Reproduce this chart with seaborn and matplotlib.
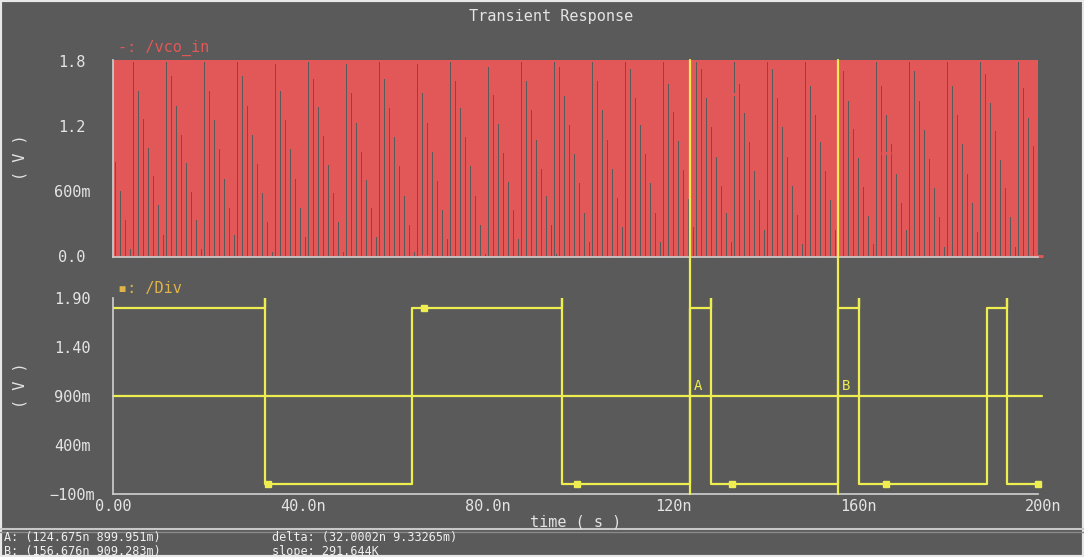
import numpy as np
import pandas as pd
import matplotlib
matplotlib.use("Agg")
import matplotlib.pyplot as plt
import seaborn as sns
from matplotlib.ticker import FixedLocator, FixedFormatter, MultipleLocator
from matplotlib.lines import Line2D
from matplotlib.patches import Rectangle
import matplotlib.transforms as mtransforms

# ---------------- data ----------------
t_end_ns = 200.0

# /vco_in : fast square wave (parameters)
vco_high = 1.8
vco_low = 0.0
vco_period_ns = 0.357
vco_high_frac = 0.81     # part of the period spent high before the falling edge

# /Div : divider output, edge times and levels
div_initial_level = 1.8
div_edge_times_ns = [32.9, 64.6, 97.0, 124.675, 129.2, 156.676, 161.2, 188.9, 193.2]
div_levels_after = [0.0, 1.8, 0.0, 1.8, 0.0, 1.8, 0.0, 1.8, 0.0]
div_overshoot = 1.9

# trace markers
marker_times_ns = [33.5, 67.2, 100.3, 133.8, 167.2, 200.0]
vco_marker_values = [1.8, 0.0, 1.72, 1.5, 0.95, 0.0]
div_marker_values = [0.0, 1.8, 0.0, 0.0, 0.0, 0.0]

# cursors
cursor_a = (124.675, 0.899951)
cursor_b = (156.676, 0.909283)
cursor_level = 0.9

# ticks
x_ticks = [0, 40, 80, 120, 160, 200]
x_tick_labels = ["0.00", "40.0n", "80.0n", "120n", "160n", "200n"]
top_y_ticks = [0.0, 0.6, 1.2, 1.8]
top_y_labels = ["0.0", "600m", "1.2", "1.8"]
bot_y_ticks = [-0.1, 0.4, 0.9, 1.4, 1.9]
bot_y_labels = ["\u2212100m", "400m", "900m", "1.40", "1.90"]

status_a = "A: (124.675n 899.951m)"
status_b = "B: (156.676n 909.283m)"
status_delta = "delta: (32.0002n 9.33265m)"
status_slope = "slope: 291.644K"

# ---------------- waveform assembly ----------------
n_per = int(np.ceil(t_end_ns / vco_period_ns))
k = np.arange(n_per) * vco_period_ns
a = vco_high_frac * vco_period_ns
vt = np.stack([k, k, k + a, k + vco_period_ns], axis=1).ravel()
vv = np.tile([vco_low, vco_high, vco_high, vco_low], n_per)
keep = vt <= t_end_ns
vco_df = pd.DataFrame({"t": vt[keep], "v": vv[keep]})

dt, dv = [0.0], [div_initial_level]
prev = div_initial_level
for te, lv in zip(div_edge_times_ns, div_levels_after):
    dt.append(te); dv.append(prev)
    if lv < prev:
        dt.append(te); dv.append(div_overshoot)
    dt.append(te); dv.append(lv)
    prev = lv
dt.append(t_end_ns); dv.append(prev)
div_df = pd.DataFrame({"t": dt, "v": dv})

# ---------------- style ----------------
BG = "#5a5a5a"
FG = "#e4e4e4"
SPINE = "#d0d0d0"
RED = "#e25858"
YEL = "#eeee50"
GOLD = "#e0b448"
MONO = ["DejaVu Sans Mono", "DejaVu Sans"]

sns.set_style("dark", rc={"axes.facecolor": BG, "figure.facecolor": BG})
plt.rcParams["font.family"] = MONO
plt.rcParams["path.simplify"] = False

W, H = 1084, 557
fig = plt.figure(figsize=(W / 100, H / 100), dpi=100)
fig.patch.set_facecolor(BG)

x0, x1 = 113, 1038
ax1 = fig.add_axes([x0 / W, 1 - 257 / H, (x1 - x0) / W, 197 / H])
ax2 = fig.add_axes([x0 / W, 1 - 494 / H, (x1 - x0) / W, 196 / H])

for ax in (ax1, ax2):
    ax.set_facecolor(BG)
    ax.grid(False)
    for s in ("top", "right"):
        ax.spines[s].set_visible(False)
    for s in ("left", "bottom"):
        ax.spines[s].set_visible(True)
        ax.spines[s].set_color(SPINE)
        ax.spines[s].set_linewidth(1.2)
    ax.set_xlim(0, t_end_ns)
    ax.xaxis.set_major_locator(FixedLocator(x_ticks))
    ax.xaxis.set_minor_locator(MultipleLocator(4))
    ax.tick_params(which="major", direction="in", length=8, width=1.2, color=SPINE,
                   labelcolor=FG, labelsize=11)
    ax.tick_params(which="minor", direction="in", length=3.5, width=1, color=SPINE)
    ax.tick_params(axis="y", which="major", pad=29.5)

# top panel
sns.lineplot(data=vco_df, x="t", y="v", ax=ax1, sort=False, estimator=None,
             color=RED, linewidth=0.216, antialiased=False)
ax1.plot(marker_times_ns, vco_marker_values, linestyle="none", marker="_",
         markersize=7, markeredgewidth=2, color=RED, clip_on=False)
ax1.set_ylim(-0.01, 1.81)
ax1.yaxis.set_major_locator(FixedLocator(top_y_ticks))
ax1.yaxis.set_major_formatter(FixedFormatter(top_y_labels))
ax1.yaxis.set_minor_locator(MultipleLocator(0.05))
ax1.tick_params(axis="x", labelbottom=False)
ax1.set_xlabel(""); ax1.set_ylabel("")

# bottom panel
sns.lineplot(data=div_df, x="t", y="v", ax=ax2, sort=False, estimator=None,
             color=YEL, linewidth=1.6)
ax2.plot(marker_times_ns, div_marker_values, linestyle="none", marker="s",
         markersize=5, color=YEL, clip_on=False)
ax2.set_ylim(-0.1, 1.9)
ax2.yaxis.set_major_locator(FixedLocator(bot_y_ticks))
ax2.yaxis.set_major_formatter(FixedFormatter(bot_y_labels))
ax2.yaxis.set_minor_locator(MultipleLocator(0.1))
ax2.xaxis.set_major_formatter(FixedFormatter(x_tick_labels))
ax2.set_xlabel(""); ax2.set_ylabel("")

for ax in (ax1, ax2):
    for lab in ax.get_yticklabels():
        lab.set_horizontalalignment("center")
offset = mtransforms.ScaledTranslation(5 / 100, 0, fig.dpi_scale_trans)
for lab in ax2.get_xticklabels()[1:]:
    lab.set_transform(lab.get_transform() + offset)

# cursors
ax2.axhline(cursor_level, xmin=0, xmax=1.004, color=YEL, linewidth=1.6, clip_on=False)
ymax_ax = (494 - 60) / 196
for (cx, cy), name in ((cursor_a, "A"), (cursor_b, "B")):
    ax2.axvline(cx, ymin=0, ymax=ymax_ax, color=YEL, linewidth=1.6, clip_on=False, zorder=5)
    ax2.text(cx + 0.9, cursor_level + 0.03, name, color=YEL, fontsize=10,
             ha="left", va="bottom")

# texts
fig.text(0.508, 1 - 17 / H, "Transient Response", ha="center", va="center",
         color=FG, fontsize=11)
fig.text(118 / W, 1 - 48 / H, "-: /vco_in", ha="left", va="center", color=RED, fontsize=11)
fig.text(118 / W, 1 - 289 / H, "\u25aa: /Div", ha="left", va="center", color=GOLD, fontsize=11)
fig.text(20 / W, 1 - 157 / H, "( V )", rotation=90, ha="center", va="center",
         color=FG, fontsize=11)
fig.text(20 / W, 1 - 385 / H, "( V )", rotation=90, ha="center", va="center",
         color=FG, fontsize=11)
fig.text(576 / W, 1 - 522 / H, "time ( s )", ha="center", va="center", color=FG, fontsize=11)

# status bar
fig.add_artist(Line2D([0, 1], [1 - 529 / H] * 2, transform=fig.transFigure,
                      color="#c8c8c8", linewidth=1.5))
fig.add_artist(Line2D([0, 1], [1 - 532 / H] * 2, transform=fig.transFigure,
                      color="#8a8a8a", linewidth=1.0))
for txt, xx, yy in ((status_a, 4, 538), (status_b, 4, 551),
                    (status_delta, 272, 538), (status_slope, 272, 551)):
    fig.text(xx / W, 1 - yy / H, txt, ha="left", va="center", color="#f0f0f0", fontsize=8.5)

fig.add_artist(Rectangle((0, 0), 1, 1, transform=fig.transFigure, fill=False,
                         edgecolor="#e8e8e8", linewidth=3))

fig.savefig("out.png", dpi=100, facecolor=BG)
